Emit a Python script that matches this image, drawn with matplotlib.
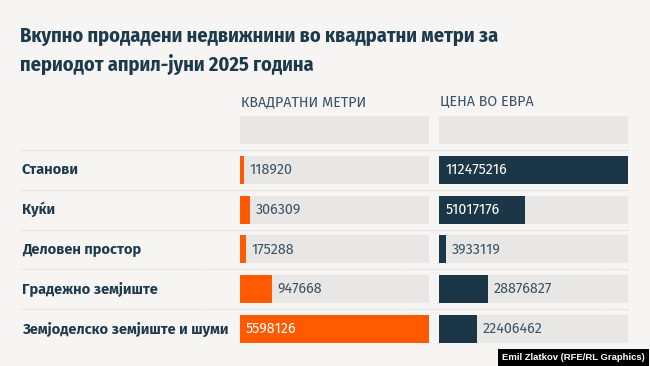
import matplotlib.pyplot as plt

categories = ['Станови', 'Куќи', 'Деловен простор', 'Градежно земјиште',
              'Земјоделско земјиште и шуми']
sq_meters = [118920, 306309, 175288, 947668, 5598126]
price_eur = [112475216, 51017176, 3933119, 28876827, 22406462]
col_titles = ['КВАДРАТНИ МЕТРИ', 'ЦЕНА ВО ЕВРА']
title = 'Вкупно продадени недвижнини во квадратни метри за\nпериодот април-јуни 2025 година'
credit = 'Emil Zlatkov (RFE/RL Graphics)'

bg = '#f6f5f4'
track = '#e8e7e6'
dark = '#1d3a4b'
txt = '#3d5363'
colors = ['#ff5a00', '#1b3647']
body_font = ['Fira Sans', 'Open Sans', 'DejaVu Sans']
title_font = ['Fira Sans Condensed', 'Roboto Condensed', 'Open Sans', 'DejaVu Sans']

W, H = 650, 366
fig = plt.figure(figsize=(W / 100, H / 100), dpi=100, facecolor=bg)

# vertical extent of the row grid (pixels from top)
top_px, bot_px = 110, 349
ax_b = (H - bot_px) / H
ax_h = (bot_px - top_px) / H
n = len(categories)
ypos = list(range(1, n + 1))

# frame axes for row labels and dotted separators
frame = fig.add_axes([0, ax_b, 1, ax_h])
frame.set_xlim(0, W)
frame.set_ylim(n + 0.5, -0.5)
frame.axis('off')
frame.hlines([i + 0.5 for i in range(n)], 21, 628, color='#d0d0d0', lw=0.8,
             linestyles=(0, (1, 1.5)))
for y, c in zip(ypos, categories):
    frame.text(22, y, c, fontsize=10.5, fontweight='bold', color=dark,
               va='center', ha='left', family=body_font)

cols = [(240, 429), (439.3, 628.3)]
for (x0, x1), vals, color, head in zip(cols, [sq_meters, price_eur], colors, col_titles):
    ax = fig.add_axes([x0 / W, ax_b, (x1 - x0) / W, ax_h])
    ax.set_facecolor('none')
    vmax = max(vals)
    ax.set_xlim(0, vmax)
    ax.set_ylim(n + 0.5, -0.5)
    ax.axis('off')
    ax.barh([0] + ypos, [vmax] * (n + 1), height=0.7, color=track, lw=0)
    ax.barh(ypos, vals, height=0.7, color=color, lw=0)
    fig.text((x0 + 1) / W, 1 - 101.5 / H, head, fontsize=10.3, color=txt,
             va='center', ha='left', family=body_font)
    pad = 6 / (x1 - x0) * vmax
    for y, v in zip(ypos, vals):
        label = str(v)
        if v > 0.4 * vmax:
            ax.text(pad, y, label, color='white', fontsize=10.3, va='center',
                    ha='left', family=body_font)
        else:
            ax.text(v + pad * 0.9, y, label, color=txt, fontsize=10.3, va='center',
                    ha='left', family=body_font)

fig.text(20 / W, 1 - 27 / H, title, fontsize=14.6, fontweight='bold', color=dark,
         va='top', ha='left', linespacing=1.45, family=title_font)

fig.text(1 - 5 / W, 8.5 / H, credit, fontsize=6.8, fontweight='bold', color='white',
         va='center', ha='right', family=['Liberation Sans', 'DejaVu Sans'],
         bbox=dict(boxstyle='square,pad=0.45', fc='black', ec='none'))

fig.savefig('out.png', dpi=100, facecolor=bg)
